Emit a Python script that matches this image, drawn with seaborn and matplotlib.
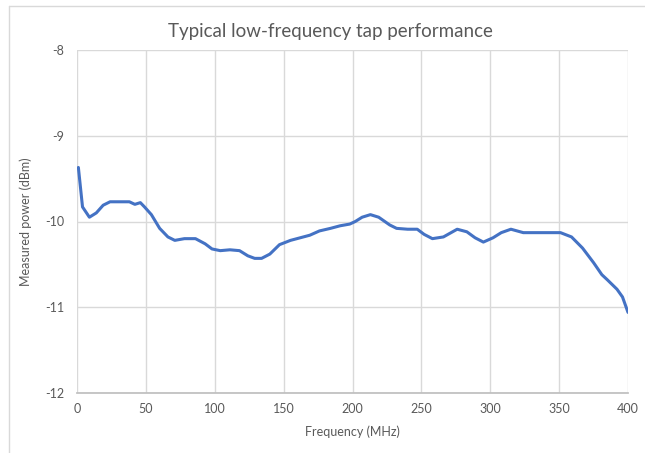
import matplotlib
matplotlib.use("Agg")
import matplotlib.pyplot as plt
import seaborn as sns
import pandas as pd
from matplotlib.lines import Line2D

# frequency (MHz) and measured power (dBm)
freq = [1, 4, 9, 14, 19, 24, 31, 38, 42, 46, 49, 54, 60, 66, 71, 78, 86, 93,
        98, 104, 111, 118, 124, 129, 134, 140, 147, 155, 162, 169, 176, 184,
        191, 198, 202, 207, 213, 219, 227, 232, 240, 247, 252, 258, 266, 276,
        283, 289, 295, 302, 308, 315, 324, 335, 351, 359, 367, 375, 381, 385,
        392, 396, 400]
power = [-9.37, -9.83, -9.95, -9.90, -9.81, -9.77, -9.77, -9.77, -9.80, -9.78,
         -9.83, -9.92, -10.08, -10.18, -10.22, -10.20, -10.20, -10.26,
         -10.32, -10.34, -10.33, -10.34, -10.40, -10.43, -10.43, -10.38,
         -10.27, -10.22, -10.19, -10.16, -10.11, -10.08, -10.05, -10.03,
         -10.00, -9.95, -9.92, -9.95, -10.04, -10.08, -10.09, -10.09, -10.15,
         -10.20, -10.18, -10.09, -10.12, -10.19, -10.24, -10.19, -10.13,
         -10.09, -10.13, -10.13, -10.13, -10.18, -10.31, -10.48, -10.62,
         -10.68, -10.79, -10.88, -11.06]

df = pd.DataFrame({"freq": freq, "power": power})

sns.set_theme(style="white")
plt.rcParams["font.family"] = ["Lato", "DejaVu Sans"]
plt.rcParams["axes.unicode_minus"] = False

fig = plt.figure(figsize=(6.45, 4.53), dpi=100)
ax = fig.add_axes([77 / 645, 1 - 393 / 453, 551 / 645, 343 / 453])

sns.lineplot(data=df, x="freq", y="power", ax=ax, color="#4472C4", linewidth=2.2)

ax.set_xlim(0, 400)
ax.set_ylim(-12, -8)
ax.set_xticks(range(0, 401, 50))
ax.set_yticks([-12, -11, -10, -9, -8])
ax.grid(True, color="#D9D9D9", linewidth=1)
for s in ["top", "right", "left"]:
    ax.spines[s].set_visible(False)
ax.spines["bottom"].set_color("#BFBFBF")
ax.tick_params(axis="both", length=0, labelsize=9, colors="#595959")
ax.tick_params(axis="x", pad=7)
ax.tick_params(axis="y", pad=9)

ax.set_xlabel("Frequency (MHz)", fontsize=9, color="#595959", labelpad=8)
ax.set_ylabel("Measured power (dBm)", fontsize=9, color="#595959")
ax.yaxis.set_label_coords((32 - 77) / 551, 0.5)

fig.text(330 / 645, 1 - 31 / 453, "Typical low-frequency tap performance",
         ha="center", va="center", fontsize=13.5, color="#595959")

# light frame at top and left of the chart area
fig.add_artist(Line2D([9 / 645, 1], [1 - 6 / 453, 1 - 6 / 453],
                      transform=fig.transFigure, color="#D9D9D9", linewidth=1))
fig.add_artist(Line2D([9 / 645, 9 / 645], [0, 1 - 6 / 453],
                      transform=fig.transFigure, color="#D9D9D9", linewidth=1))

fig.savefig("out.png", dpi=100)
